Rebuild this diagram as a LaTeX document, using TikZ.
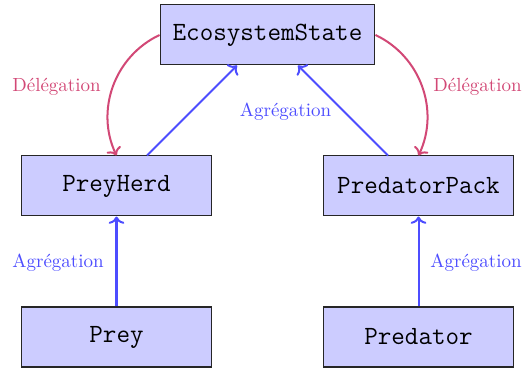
\documentclass[tikz,border=0pt]{standalone}
\usetikzlibrary{arrows.meta}
\definecolor{boxfill}{RGB}{204,204,255}
\definecolor{aggcol}{RGB}{77,77,255}
\definecolor{delcol}{RGB}{210,72,118}
\begin{document}
\begin{tikzpicture}[x=0.5475pt,y=-0.5475pt,
  classbox/.style={draw=black!85,line width=0.55pt,fill=boxfill,
    minimum height=32.85pt,inner sep=0pt,
    font=\fontsize{14.4}{17}\selectfont\ttfamily},
  tip/.style={-{To[length=4pt,width=8.6pt]}},
  agg/.style={aggcol,line width=1.1pt,tip},
  deleg/.style={delcol,line width=1.1pt,tip},
  agglabel/.style={text=aggcol,font=\fontsize{10.4}{12}\selectfont},
  dellabel/.style={text=delcol,font=\fontsize{10.4}{12}\selectfont}]
  \useasboundingbox (0,0) rectangle (523,371);

  % class boxes
  \node[classbox,minimum width=117.7pt] (eco)  at (267.5,35)  {EcosystemState};
  \node[classbox,minimum width=103.5pt] (herd) at (116.5,186) {PreyHerd};
  \node[classbox,minimum width=103.5pt] (pack) at (418.5,186) {PredatorPack};
  \node[classbox,minimum width=103.5pt] (prey) at (116.5,337) {Prey};
  \node[classbox,minimum width=103.5pt] (pred) at (418.5,337) {Predator};

  % delegation arcs
  \draw[deleg] (eco.west) to[bend right=45] (herd.north);
  \draw[deleg] (eco.east) to[bend left=45] (pack.north);
  \node[dellabel] (dl) at (56.5,87) {Délégation};
  \node[dellabel] (dr) at (477.5,87) {Délégation};

  % aggregation arrows
  \draw[agg] (herd) -- (eco);
  \draw[agg] (pack) -- (eco);
  \draw[agg] (prey) -- (herd);
  \draw[agg] (pred) -- (pack);
  \node[agglabel] (am) at (285.5,112) {Agrégation};
  \node[agglabel] (al) at (58,263) {Agrégation};
  \node[agglabel] (ar) at (476,263) {Agrégation};
\end{tikzpicture}
\end{document}
